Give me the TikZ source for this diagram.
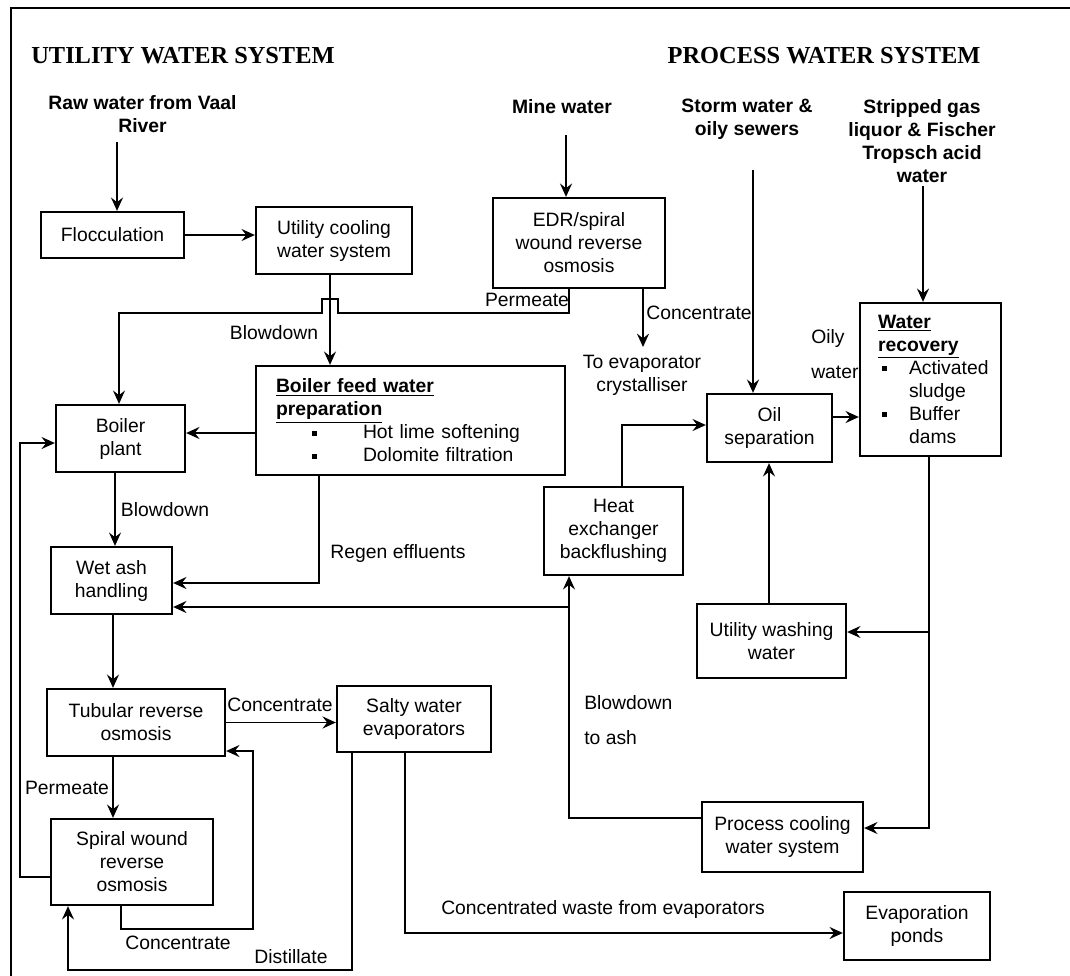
\documentclass[tikz,border=0pt]{standalone}
\usepackage{fontspec}
\setmainfont{Liberation Sans}
\newfontfamily\titlefont{Liberation Serif}
\usetikzlibrary{arrows.meta,calc}
\newcommand{\bulA}{\makebox[65.25pt][l]{\hspace*{27pt}\rule[2.5pt]{3.8pt}{3.8pt}}}
\newcommand{\bulB}{\makebox[23.25pt][l]{\hspace*{3pt}\rule[2.5pt]{3.8pt}{3.8pt}}}
\begin{document}
\begin{tikzpicture}[x=0.75pt,y=-0.75pt,
  font=\fontsize{14.5}{17.25}\selectfont,
  box/.style={draw,line width=1.7pt,inner sep=0pt,align=center},
  sz/.style 2 args={minimum width=#1*0.75pt,minimum height=#2*0.75pt},
  conn/.style={line width=1.4pt},
  arr/.style={conn,-{Stealth[length=10pt,width=9pt,inset=3.5pt]}},
  lbl/.style={inner sep=0pt,align=center},
  src/.style={lbl,font=\fontsize{14.5}{17.25}\selectfont\bfseries},
  ttl/.style={lbl,font=\titlefont\fontsize{18.3}{21}\selectfont\bfseries}]
\useasboundingbox (0,0) rectangle (1070,975);
\draw[line width=1.7pt] (1075,8) -- (11,8) -- (11,980);

% titles and sources
\node[ttl] (t1) at (183,56) {UTILITY WATER SYSTEM};
\node[ttl] (t2) at (824,56) {PROCESS WATER SYSTEM};
\node[src] (raw) at (142.5,114.5) {Raw water from Vaal\\River};
\node[src] (mine) at (562,107) {Mine water};
\node[src] (storm) at (747,119) {Storm water \&\\oily sewers};
\node[src] (strip) at (922,141) {Stripped gas\\liquor \& Fischer\\Tropsch acid\\water};

% boxes
\node[box,sz={143}{46}] (floc) at (112.5,235) {Flocculation};
\node[box,sz={156}{67}] (ucool) at (334,240.5) {Utility cooling\\water system};
\node[box,sz={172}{90}] (edr) at (579,243) {EDR/spiral\\wound reverse\\osmosis};
\node[box,sz={309}{109},text width=201.75pt,align=left] (bfw) at (410.5,420.5)
  {\textbf{\underline{Boiler feed water}}\\\textbf{\underline{preparation}}\\\bulA Hot lime softening\\\bulA Dolomite filtration};
\node[box,sz={129}{67}] (boiler) at (120.5,438.5) {Boiler\\plant};
\node[box,sz={121}{67}] (wetash) at (111.5,580.5) {Wet ash\\handling};
\node[box,sz={139}{88}] (heatx) at (613.5,531) {Heat\\exchanger\\backflushing};
\node[box,sz={125}{68}] (oilsep) at (769.5,428) {Oil\\separation};
\node[box,sz={141}{153},text width=78.75pt,align=left] (wrec) at (930.5,379.5)
  {\textbf{\underline{Water}}\\\textbf{\underline{recovery}}\\\bulB Activated\\\hspace*{23.25pt}sludge\\\bulB Buffer\\\hspace*{23.25pt}dams};
\node[box,sz={149}{74}] (uwash) at (771.5,641) {Utility washing\\water};
\node[box,sz={161}{70}] (pcool) at (782.5,837) {Process cooling\\water system};
\node[box,sz={146}{68}] (ponds) at (917,926) {Evaporation\\ponds};
\node[box,sz={178}{67}] (tubro) at (136,722.5) {Tubular reverse\\osmosis};
\node[box,sz={154}{66}] (salty) at (414,719) {Salty water\\evaporators};
\node[box,sz={162}{86}] (spiral) at (132,862) {Spiral wound\\reverse\\osmosis};

% connectors
\coordinate (rawout) at (117,142);
\draw[arr] (rawout) -- (rawout |- floc.north);
\draw[arr] (floc.east) -- (floc.east -| ucool.west);
\coordinate (mineout) at (566,135);
\draw[arr] (mineout) -- (mineout |- edr.north);
\coordinate (p1) at ($(ucool.south)+(-4,0)$);
\draw[arr] (p1) -- (p1 |- bfw.north);
\coordinate (pe) at ($(edr.south)+(-10,0)$);
\coordinate (pl) at (119,313);
\draw[arr] (pe) -- (569,313) -- (338,313) -- (338,299) -- (322,299) -- (322,313) -- (pl) -- (pl |- boiler.north);
\draw[arr] ($(bfw.west)+(0,12.5)$) -- ($(boiler.east)+(0,-5.5)$);
\coordinate (b2) at ($(boiler.south)+(-5.5,0)$);
\draw[arr] (b2) -- (b2 |- wetash.north);
\coordinate (rg) at ($(bfw.south)+(-91.5,0)$);
\draw[arr] (rg) |- ($(wetash.east)+(0,2.5)$);
\coordinate (pc) at ($(pcool.west)+(0,-19)$);
\draw[arr] (pc) -| ($(heatx.south)+(-44.5,0)$);
\coordinate (j1) at (569,607);
\draw[arr] (j1) -- (j1 -| wetash.east);
\coordinate (hx) at ($(heatx.north)+(8.5,0)$);
\draw[arr] (hx) |- ($(oilsep.west)+(0,-3)$);
\coordinate (stormout) at (753,170);
\draw[arr] (stormout) -- (stormout |- oilsep.north);
\coordinate (ec) at ($(edr.south)+(64,0)$);
\coordinate (evap) at (643,347);
\draw[arr] (ec) -- (evap);
\coordinate (o1) at ($(oilsep.east)+(0,-11)$);
\draw[arr] (o1) -- (o1 -| wrec.west);
\coordinate (stripout) at (923,186);
\draw[arr] (stripout) -- (stripout |- wrec.north);
\coordinate (wr) at ($(wrec.south)+(-1.5,0)$);
\draw[arr] (wr) |- ($(pcool.east)+(0,-9)$);
\coordinate (j2) at ($(uwash.east)+(0,-9)$);
\draw[arr] (j2 -| wr) -- (j2);
\coordinate (u1) at ($(uwash.north)+(-2.5,0)$);
\draw[arr] (u1) -- (u1 |- oilsep.south);
\coordinate (w1) at ($(wetash.south)+(1.5,0)$);
\draw[arr] (w1) -- (w1 |- tubro.north);
\draw[arr] (tubro.east) -- (tubro.east -| salty.west);
\coordinate (tp) at ($(tubro.south)+(-23,0)$);
\draw[arr] (tp) -- (tp |- spiral.north);
\coordinate (sc) at ($(spiral.south)+(-11,0)$);
\coordinate (sc2) at ($(tubro.east)+(0,28.5)$);
\draw[arr] (sc) -- ++(0,23) -| ($(sc2)+(27,0)$) -- (sc2);
\coordinate (sd) at ($(salty.south)+(-62,0)$);
\coordinate (sd2) at ($(spiral.south)+(-64,0)$);
\draw[arr] (sd) -- ++(0,217) -| (sd2);
\coordinate (sw) at ($(salty.south)+(-9,0)$);
\draw[arr] (sw) |- ($(ponds.west)+(0,7)$);
\coordinate (sl) at ($(spiral.west)+(0,15)$);
\draw[arr] (sl) -- ++(-30,0) |- ($(boiler.west)+(0,4.5)$);

% labels
\node[lbl] (l1) at (274,333) {Blowdown};
\node[lbl] (l2) at (527,300) {Permeate};
\node[lbl] (l3) at (165,510) {Blowdown};
\node[lbl] (l4) at (398,553) {Regen effluents};
\node[lbl] (l5) at (699,313) {Concentrate};
\node[lbl] (l6) at (642,375) {To evaporator\\crystalliser};
\node[lbl,anchor=west,align=left] (l7) at (811,354.5) {Oily\\[9pt]water};
\node[lbl,anchor=west,align=left] (l8) at (584,720.5) {Blowdown\\[9pt]to ash};
\node[lbl] (l9) at (280,705) {Concentrate};
\node[lbl] (l10) at (67,788) {Permeate};
\node[lbl] (l11) at (178,943) {Concentrate};
\node[lbl] (l12) at (291,957) {Distillate};
\node[lbl] (l13) at (603,909) {Concentrated waste from evaporators};
\end{tikzpicture}
\end{document}
